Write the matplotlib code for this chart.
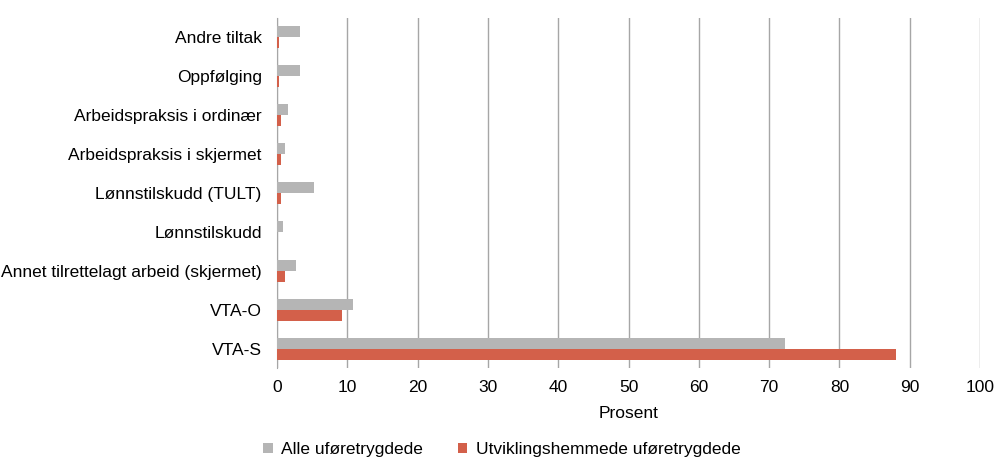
import numpy as np
import matplotlib
matplotlib.use("Agg")
import matplotlib.pyplot as plt

plt.rcParams['font.family'] = ['Liberation Sans', 'DejaVu Sans']

categories = ["Andre tiltak", "Oppfølging", "Arbeidspraksis i ordinær",
              "Arbeidspraksis i skjermet", "Lønnstilskudd (TULT)", "Lønnstilskudd",
              "Annet tilrettelagt arbeid (skjermet)", "VTA-O", "VTA-S"]
alle = [3.3, 3.3, 1.5, 1.1, 5.2, 0.8, 2.7, 10.8, 72.3]
utv = [0.3, 0.3, 0.5, 0.5, 0.5, 0.0, 1.1, 9.2, 88.0]
xticks = list(range(0, 101, 10))

fig = plt.figure(figsize=(10, 4.73), dpi=100)
ax = fig.add_axes([0.277, 0.221, 0.703, 0.742])

y = np.arange(len(categories))
h = 0.29
ax.barh(y - h / 2, alle, height=h, color="#b5b5b5", label="Alle uføretrygdede", zorder=3)
ax.barh(y + h / 2, utv, height=h, color="#d3604a", label="Utviklingshemmede uføretrygdede", zorder=3)

ax.set_yticks(y)
ax.set_yticklabels(categories, fontsize=12.5)
ax.set_ylim(len(categories) - 0.5, -0.5)
ax.set_xlim(0, 100)
ax.set_xticks(xticks)
ax.tick_params(axis="x", labelsize=12.5, length=0, pad=8)
ax.tick_params(axis="y", length=0, pad=11)
ax.grid(axis="x", color="#a6a6a6", linewidth=1, zorder=0)
for s in ["top", "right", "bottom"]:
    ax.spines[s].set_visible(False)
ax.spines["left"].set_color("#a6a6a6")
ax.set_xlabel("Prosent", fontsize=12.5, labelpad=8)

fig.legend(loc="lower center", bbox_to_anchor=(0.502, 0.0), ncol=2, frameon=False,
           fontsize=12.5, handlelength=0.55, handleheight=0.55, columnspacing=2.0,
           handletextpad=0.5)

fig.savefig("out.png", dpi=100)
